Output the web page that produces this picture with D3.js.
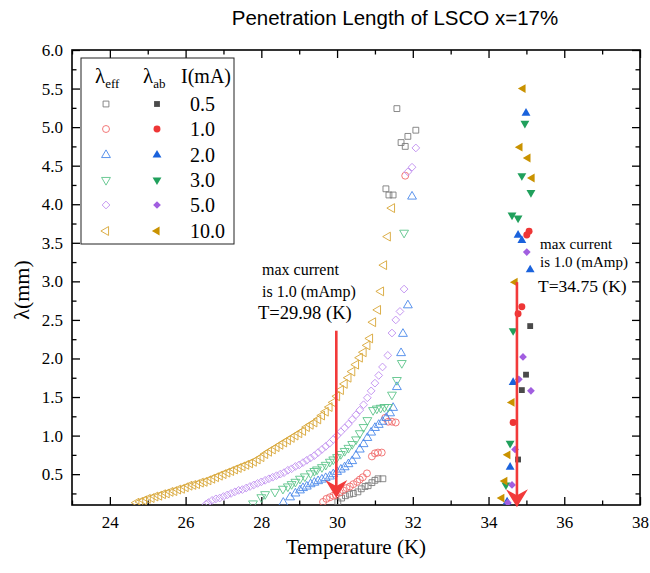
<!DOCTYPE html>
<html><head><meta charset="utf-8">
<script src="https://cdn.jsdelivr.net/npm/d3@7"></script>
<style>body{margin:0;background:#fff}svg{display:block}</style>
</head><body><svg id="c" width="650" height="573"></svg>
<script>
// ---------- data ----------
const currents = ["0.5", "1.0", "2.0", "3.0", "5.0", "10.0"];
const xTicks = [24, 26, 28, 30, 32, 34, 36, 38];
const yTicks = [0.5, 1.0, 1.5, 2.0, 2.5, 3.0, 3.5, 4.0, 4.5, 5.0, 5.5, 6.0];

// lambda_eff (hollow)
const eff05T = [30.02,30.12,30.22,30.33,30.43,30.55,30.64,30.74,30.82,30.92,31.00,31.08,31.21,31.29,31.37,31.48,31.58,31.69,31.80,31.87,32.08];
const eff05L = [0.14,0.19,0.22,0.24,0.25,0.27,0.31,0.34,0.35,0.39,0.42,0.44,0.44,4.20,4.12,4.12,5.24,4.80,4.75,4.88,4.96];

const eff10T = [29.63,29.72,29.81,29.90,29.97,30.07,30.16,30.25,30.34,30.43,30.53,30.60,30.68,30.79,30.92,31.00,31.08,31.18,31.27,31.35,31.45,31.55,31.80];
const eff10L = [0.14,0.18,0.20,0.22,0.23,0.26,0.29,0.32,0.34,0.37,0.40,0.43,0.46,0.51,0.73,0.77,0.78,0.78,1.23,1.18,1.18,1.17,4.37];

const eff20T = [28.58,28.76,28.90,29.02,29.10,29.20,29.30,29.40,29.50,29.60,29.70,29.81,29.90,30.00,30.10,30.20,30.30,30.40,30.50,30.60,30.70,30.80,30.90,31.00,31.10,31.20,31.30,31.40,31.48,31.58,31.69,31.74,31.87,31.98];
const eff20L = [0.13,0.20,0.25,0.29,0.32,0.34,0.37,0.39,0.41,0.43,0.45,0.47,0.50,0.53,0.56,0.59,0.63,0.67,0.74,0.82,0.89,0.97,1.04,1.10,1.14,1.18,1.23,1.29,1.36,1.63,2.07,2.32,2.69,4.10];

const eff30T = [27.78,28.00,28.10,28.36,28.57,28.70,28.80,28.90,29.02,29.15,29.30,29.40,29.47,29.60,29.70,29.81,29.90,30.00,30.10,30.20,30.30,30.40,30.50,30.60,30.70,30.80,30.95,31.05,31.15,31.25,31.35,31.45,31.58,31.71,31.77];
const eff30L = [0.12,0.20,0.24,0.27,0.31,0.34,0.37,0.40,0.44,0.47,0.51,0.54,0.56,0.59,0.62,0.66,0.69,0.72,0.76,0.80,0.84,0.89,0.95,1.03,1.11,1.20,1.33,1.35,1.36,1.37,1.37,1.53,1.72,1.94,3.63];

const eff50T = [26.54,26.60,26.70,26.80,26.90,27.00,27.10,27.20,27.30,27.40,27.50,27.60,27.70,27.80,27.90,28.00,28.10,28.20,28.30,28.40,28.50,28.60,28.70,28.80,28.90,29.00,29.10,29.20,29.30,29.40,29.50,29.60,29.70,29.80,29.90,30.00,30.10,30.20,30.30,30.40,30.50,30.60,30.70,30.80,30.90,31.00,31.10,31.20,31.34,31.45,31.55,31.66,31.77,31.87,31.98,32.08];
const eff50L = [0.11,0.13,0.16,0.18,0.19,0.21,0.23,0.25,0.27,0.29,0.30,0.32,0.34,0.36,0.38,0.40,0.42,0.44,0.46,0.48,0.50,0.52,0.55,0.57,0.60,0.62,0.65,0.68,0.71,0.74,0.78,0.82,0.86,0.90,0.95,1.00,1.05,1.10,1.15,1.21,1.27,1.33,1.40,1.49,1.58,1.68,1.78,1.89,2.04,2.33,2.50,2.61,2.90,4.42,4.48,4.73];

const eff100T = [24.70,24.80,24.90,25.00,25.10,25.20,25.30,25.40,25.50,25.60,25.70,25.80,25.90,26.00,26.10,26.20,26.30,26.40,26.50,26.60,26.70,26.80,26.90,27.00,27.10,27.20,27.30,27.40,27.50,27.60,27.70,27.80,27.90,28.00,28.10,28.20,28.30,28.40,28.50,28.60,28.70,28.80,28.90,29.00,29.10,29.20,29.30,29.40,29.50,29.60,29.70,29.80,29.90,30.00,30.10,30.20,30.30,30.40,30.50,30.60,30.70,30.80,30.87,30.95,31.08,31.16,31.24,31.34,31.45];
const eff100L = [0.13,0.14,0.16,0.18,0.19,0.21,0.22,0.24,0.25,0.27,0.28,0.30,0.31,0.33,0.35,0.36,0.37,0.39,0.40,0.42,0.44,0.46,0.48,0.50,0.52,0.54,0.56,0.58,0.60,0.62,0.64,0.66,0.69,0.72,0.76,0.79,0.82,0.85,0.88,0.91,0.94,0.97,1.00,1.03,1.06,1.11,1.14,1.17,1.21,1.26,1.31,1.37,1.43,1.51,1.59,1.67,1.75,1.83,1.92,2.01,2.08,2.17,2.26,2.47,2.63,2.87,3.21,3.58,3.95];

// lambda_ab (filled)
const ab05T = [35.10,34.99,34.88,34.78];
const ab05L = [2.42,1.79,1.59,0.69];
const ab10T = [35.07,35.01,34.88,34.78,34.65];
const ab10L = [3.65,3.60,2.67,2.58,1.17];
const ab20T = [34.99,34.78,34.88,35.10,34.65,34.57,34.49];
const ab20L = [5.18,3.60,3.53,3.15,1.69,0.59,0.14];
const ab30T = [34.96,34.88,35.12,34.62,34.78,34.65,34.57,34.46];
const ab30L = [5.05,4.37,4.15,3.86,3.82,2.36,0.90,0.36];
const ab50T = [35.01,34.91,34.80,35.12,34.70,34.62,34.51];
const ab50L = [3.38,2.02,1.73,1.58,0.82,0.36,0.13];
const ab100T = [34.91,34.83,35.04,35.15,34.70,34.62,34.51,34.43,34.35];
const ab100L = [5.50,4.74,4.60,4.34,2.99,1.43,0.75,0.41,0.19];

// arrows (max-current markers)
const arrowT = [29.98, 34.75];
const arrowTop = [2.36, 2.99];
const arrowTip = [0.19, 0.07];

// ---------- build ----------
const effSeries = [[eff05T,eff05L],[eff10T,eff10L],[eff20T,eff20L],[eff30T,eff30L],[eff50T,eff50L],[eff100T,eff100L]];
const abSeries = [[ab05T,ab05L],[ab10T,ab10L],[ab20T,ab20L],[ab30T,ab30L],[ab50T,ab50L],[ab100T,ab100L]];
const hollowColors = ["#7c7c7c","#f06a6a","#4a88ea","#5cc48a","#c293f0","#d8a637"];
const filledColors = ["#4a4a4a","#ee3636","#1a62dc","#20a05c","#a15ee0","#c99200"];
const shapes = ["square","circle","up","down","diamond","left"];

const L0 = 72, R0 = 640, T0 = 50, B0 = 505;
const x = d3.scaleLinear().domain([23, 38]).range([L0, R0]);
const y = d3.scaleLinear().domain([0.1, 6.0]).range([B0, T0]);

const svg = d3.select("#c");
const serif = "Liberation Serif";

function symPath(shape) {
  if (shape === "square") return d3.symbol(d3.symbolSquare, 34)();
  if (shape === "circle") return d3.symbol(d3.symbolCircle, 38)();
  if (shape === "diamond") return d3.symbol(d3.symbolSquare, 30)();
  return d3.symbol(d3.symbolTriangle, 34)();
}
function symRot(shape) {
  if (shape === "down") return 180;
  if (shape === "left") return -90;
  if (shape === "diamond") return 45;
  return 0;
}
function serifText(sel, size) {
  return sel.attr("font-family", serif).style("font-family", serif)
    .attr("font-size", size).style("font-size", size + "px").attr("fill", "#000");
}

svg.append("clipPath").attr("id", "clip").append("rect")
  .attr("x", L0).attr("y", T0).attr("width", R0 - L0).attr("height", B0 - T0);

// title
svg.append("text").attr("x", 395).attr("y", 25).attr("text-anchor", "middle")
  .attr("font-family", "Liberation Sans").style("font-size", "20.5px")
  .text("Penetration Length of LSCO x=17%");

// axes
function styleAxis(g) {
  g.attr("font-family", serif).attr("font-size", 17);
  g.select(".domain").remove();
  g.selectAll("line").attr("stroke", "#000").attr("stroke-width", 1.3);
  serifText(g.selectAll("text"), 17);
}
const xMinor = d3.range(23, 38.01, 1).filter(v => v % 2 !== 0);
const yMinor = d3.range(0.25, 6.0, 0.5);

svg.append("g").attr("transform", `translate(0,${B0})`)
  .call(d3.axisBottom(x).tickValues(xTicks).tickSize(-8).tickPadding(11).tickFormat(d3.format("d"))).call(styleAxis);
svg.append("g").attr("transform", `translate(0,${B0})`)
  .call(d3.axisBottom(x).tickValues(xMinor).tickSize(-4.5).tickFormat("")).call(styleAxis);
svg.append("g").attr("transform", `translate(0,${T0})`)
  .call(d3.axisTop(x).tickValues(xTicks).tickSize(-8).tickFormat("")).call(styleAxis);
svg.append("g").attr("transform", `translate(0,${T0})`)
  .call(d3.axisTop(x).tickValues(xMinor).tickSize(-4.5).tickFormat("")).call(styleAxis);
svg.append("g").attr("transform", `translate(${L0},0)`)
  .call(d3.axisLeft(y).tickValues(yTicks).tickSize(-8).tickPadding(9).tickFormat(d3.format(".1f"))).call(styleAxis);
svg.append("g").attr("transform", `translate(${L0},0)`)
  .call(d3.axisLeft(y).tickValues(yMinor).tickSize(-4.5).tickFormat("")).call(styleAxis);
svg.append("g").attr("transform", `translate(${R0},0)`)
  .call(d3.axisRight(y).tickValues(yTicks).tickSize(-8).tickFormat("")).call(styleAxis);
svg.append("g").attr("transform", `translate(${R0},0)`)
  .call(d3.axisRight(y).tickValues(yMinor).tickSize(-4.5).tickFormat("")).call(styleAxis);

svg.append("rect").attr("x", L0).attr("y", T0).attr("width", R0 - L0).attr("height", B0 - T0)
  .attr("fill", "none").attr("stroke", "#000").attr("stroke-width", 1.6);

// axis titles
serifText(svg.append("text").attr("x", (L0 + R0) / 2).attr("y", 554).attr("text-anchor", "middle"), 21)
  .text("Temperature (K)");
serifText(svg.append("text").attr("transform", "translate(29,290) rotate(-90)").attr("text-anchor", "middle"), 22)
  .text("λ(mm)");

// points
const plot = svg.append("g").attr("clip-path", "url(#clip)");
effSeries.forEach((s, i) => {
  const pts = s[0].map((t, k) => [t, s[1][k]]);
  plot.append("g").selectAll("path").data(pts).join("path")
    .attr("d", symPath(shapes[i]))
    .attr("transform", d => `translate(${x(d[0])},${y(d[1])}) rotate(${symRot(shapes[i])})`)
    .attr("fill", "none").attr("stroke", hollowColors[i]).attr("stroke-width", 0.9);
});
abSeries.forEach((s, i) => {
  const pts = s[0].map((t, k) => [t, s[1][k]]);
  plot.append("g").selectAll("path").data(pts).join("path")
    .attr("d", symPath(shapes[i]))
    .attr("transform", d => `translate(${x(d[0])},${y(d[1])}) rotate(${symRot(shapes[i])})`)
    .attr("fill", filledColors[i]).attr("stroke", "none");
});

// arrows
const arrowColor = "#f23a3a";
arrowT.forEach((t, i) => {
  const ax = x(t), y1 = y(arrowTop[i]), y2 = y(arrowTip[i]);
  svg.append("line").attr("x1", ax).attr("x2", ax).attr("y1", y1).attr("y2", y2 - 10)
    .attr("stroke", arrowColor).attr("stroke-width", 2.6);
  svg.append("path")
    .attr("d", `M${ax},${y2} L${ax - 11},${y2 - 18} L${ax},${y2 - 12} L${ax + 11},${y2 - 18} Z`)
    .attr("fill", arrowColor);
});

// annotations
function note(xp, yp, txt, size) {
  serifText(svg.append("text").attr("x", xp).attr("y", yp), size).text(txt);
}
note(262, 275, "max current", 16);
note(262, 297, "is 1.0 (mAmp)", 16);
note(258, 319, "T=29.98 (K)", 18.5);
note(540, 249, "max current", 15);
note(540, 267, "is 1.0 (mAmp)", 15);
note(538, 292, "T=34.75 (K)", 17.5);

// legend
const lg = svg.append("g");
lg.append("rect").attr("x", 81).attr("y", 58).attr("width", 153).attr("height", 186)
  .attr("fill", "#fff").attr("stroke", "#222").attr("stroke-width", 1);
const h1 = serifText(lg.append("text").attr("x", 95).attr("y", 83), 21);
h1.append("tspan").text("λ");
h1.append("tspan").attr("dy", 5).style("font-size", "13px").text("eff");
const h2 = serifText(lg.append("text").attr("x", 143).attr("y", 83), 21);
h2.append("tspan").text("λ");
h2.append("tspan").attr("dy", 5).style("font-size", "13px").text("ab");
serifText(lg.append("text").attr("x", 181).attr("y", 83), 20).text("I(mA)");
const rowY = [104, 129, 155, 180, 205, 231];
currents.forEach((c, i) => {
  lg.append("path").attr("d", symPath(shapes[i]))
    .attr("transform", `translate(106,${rowY[i]}) rotate(${symRot(shapes[i])})`)
    .attr("fill", "none").attr("stroke", hollowColors[i]).attr("stroke-width", 0.9);
  lg.append("path").attr("d", symPath(shapes[i]))
    .attr("transform", `translate(157,${rowY[i]}) rotate(${symRot(shapes[i])})`)
    .attr("fill", filledColors[i]);
  serifText(lg.append("text").attr("x", 190).attr("y", rowY[i] + 7), 20).text(c);
});
</script>
</body></html>
